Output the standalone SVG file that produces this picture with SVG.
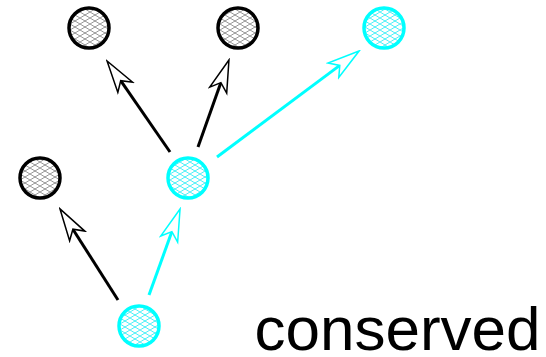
<svg xmlns="http://www.w3.org/2000/svg" width="546" height="357" viewBox="0 0 546 357">
  <style>
    .node-k { fill: url(#mesh-k); stroke: #000000; stroke-width: 3.5; }
    .node-c { fill: url(#mesh-c); stroke: #00ffff; stroke-width: 3.5; }
    .edge-k { fill: none; stroke: #000000; stroke-width: 3; marker-end: url(#head-k); }
    .edge-c { fill: none; stroke: #00ffff; stroke-width: 3; marker-end: url(#head-c); }
    .label { font-family: "Liberation Sans", Arial, sans-serif; font-size: 62px; fill: #000000; }
  </style>
  <defs>
    <!-- diamond mesh fill for the circles -->
    <pattern id="mesh-k" patternUnits="userSpaceOnUse" width="10" height="6">
      <rect width="10" height="6" fill="#ffffff"/>
      <path d="M0 0 L10 6 M0 6 L10 0" stroke="#6a6a6a" stroke-width="0.7" fill="none"/>
    </pattern>
    <pattern id="mesh-c" patternUnits="userSpaceOnUse" width="10" height="6">
      <rect width="10" height="6" fill="#ffffff"/>
      <path d="M0 0 L10 6 M0 6 L10 0" stroke="#00e8f2" stroke-width="0.7" fill="none"/>
    </pattern>
    <!-- open notched arrowheads -->
    <marker id="head-k" markerUnits="userSpaceOnUse" viewBox="-2 -11 36 22" markerWidth="36" markerHeight="22" refX="8" refY="0" orient="auto">
      <path d="M32 0 L0 -9 L8 0 L0 9 Z" fill="#ffffff" stroke="#000000" stroke-width="1.5" stroke-linejoin="miter"/>
    </marker>
    <marker id="head-c" markerUnits="userSpaceOnUse" viewBox="-2 -11 36 22" markerWidth="36" markerHeight="22" refX="8" refY="0" orient="auto">
      <path d="M32 0 L0 -9 L8 0 L0 9 Z" fill="#ffffff" stroke="#00ffff" stroke-width="1.5" stroke-linejoin="miter"/>
    </marker>
  </defs>

  <g id="connectors">
    <line class="edge-k" x1="170" y1="152" x2="120.7" y2="80.7"/>
    <line class="edge-k" x1="198" y1="147" x2="220.9" y2="82.6"/>
    <line class="edge-c" x1="217" y1="157" x2="339.8" y2="65.4"/>
    <line class="edge-k" x1="118" y1="300" x2="72.9" y2="229.2"/>
    <line class="edge-c" x1="149" y1="295" x2="171.9" y2="231.6"/>
  </g>

  <g id="node-a"><circle class="node-k" cx="89" cy="28" r="20"/></g>
  <g id="node-b"><circle class="node-k" cx="238" cy="28" r="20"/></g>
  <g id="node-c"><circle class="node-c" cx="384" cy="28" r="20"/></g>
  <g id="node-d"><circle class="node-k" cx="40" cy="178" r="20"/></g>
  <g id="node-e"><circle class="node-c" cx="188" cy="178" r="20"/></g>
  <g id="node-f"><circle class="node-c" cx="139" cy="326" r="20"/></g>

  <text class="label" x="254.5" y="350">conserved</text>
</svg>
